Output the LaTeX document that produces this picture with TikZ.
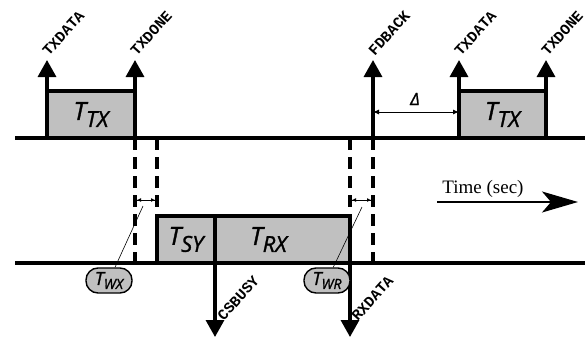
\documentclass[tikz,border=0pt]{standalone}
\usepackage{fontspec}
\setmainfont{Liberation Serif}
\newfontfamily\boxfont[FakeBold=1.3]{Open Sans}
\newfontfamily\sigfont{Liberation Mono}
\usetikzlibrary{arrows.meta,positioning}
\definecolor{boxgray}{RGB}{192,192,192}
\newcommand{\bigT}[1]{{\boxfont\itshape\fontsize{25}{25}\selectfont T\raisebox{-7pt}{\fontsize{22}{22}\selectfont #1}}}
\newcommand{\smallT}[1]{{\boxfont\itshape\fontsize{18}{18}\selectfont T\raisebox{-4pt}{\fontsize{14}{14}\selectfont #1}}}

\begin{document}
\begin{tikzpicture}[x=1pt,y=1pt,
  axis/.style={line width=3.3pt},
  slot/.style={draw,line width=3.3pt,fill=boxgray,inner sep=0pt,outer sep=0pt,minimum height=47pt},
  sig/.style={line width=3.3pt,-{Triangle[width=18pt,length=17pt]}},
  guide/.style={line width=3.5pt,dash pattern=on 12pt off 7pt},
  sigtext/.style={font=\sigfont\bfseries\fontsize{15}{15}\selectfont,rotate=48,anchor=south west,inner sep=0pt},
  gap/.style={line width=1pt,{Bar[width=9pt,line width=2pt]Latex[length=4pt,width=4pt]}-{Latex[length=4pt,width=4pt]Bar[width=9pt,line width=2pt]}},
  pill/.style={draw,line width=1.4pt,fill=boxgray,rounded corners=12pt,minimum width=46pt,minimum height=25pt,inner sep=0pt},
  leader/.style={line width=0.6pt},
  timeaxis/.style={line width=1.6pt,-{Stealth[length=36pt,width=21pt,inset=9pt]}}
]
\useasboundingbox (0,-343) rectangle (587,0);

\draw[axis] (15,-138) coordinate (a1) -- (585,-138) coordinate (a2);
\draw[axis] (15,-263) coordinate (b1) -- (585,-263) coordinate (b2);

\node[slot,minimum width=88pt] (tx1) at (91,-114.5) {\bigT{TX}};
\node[slot,minimum width=87pt] (tx2) at (502.5,-114.5) {\bigT{TX}};
\node[slot,minimum width=58pt] (sy) at (186,-239.5) {\bigT{SY}};
\node[slot,minimum width=135pt] (rx) at (282.5,-239.5) {\bigT{RX}\hspace*{28pt}};

\coordinate (p1) at (47,-60);
\coordinate (p2) at (135,-60);
\coordinate (f0) at (373,-138);
\coordinate (p3) at (373,-60);
\coordinate (p4) at (459,-60);
\coordinate (p5) at (546,-60);
\draw[sig] (tx1.south west) -- (p1);
\draw[sig] (tx1.south east) -- (p2);
\draw[sig] (f0) -- (p3);
\draw[sig] (tx2.south west) -- (p4);
\draw[sig] (tx2.south east) -- (p5);
\node[sigtext] (l1) at ([xshift=2pt,yshift=3pt]p1) {TXDATA};
\node[sigtext] (l2) at ([xshift=2pt,yshift=3pt]p2) {TXDONE};
\node[sigtext] (l3) at ([xshift=2pt,yshift=3pt]p3) {FDBACK};
\node[sigtext] (l4) at ([xshift=2pt,yshift=3pt]p4) {TXDATA};
\node[sigtext] (l5) at ([xshift=2pt,yshift=3pt]p5) {TXDONE};

\coordinate (q1) at (215,-337);
\coordinate (q2) at (350,-337);
\draw[sig] (sy.south east) -- (q1);
\draw[sig] (rx.south east) -- (q2);
\node[sigtext] (l6) at (224,-322) {CSBUSY};
\node[sigtext] (l7) at (358,-322) {RXDATA};

\coordinate (d1) at (135,-263);
\coordinate (d2) at (157,-138);
\coordinate (d3) at (350,-138);
\coordinate (d4) at (373,-263);
\draw[guide] (tx1.south east) -- (d1);
\draw[guide] (d2) -- (sy.north west);
\draw[guide] (d3) -- (rx.north east);
\draw[guide] (f0) -- (d4);

\coordinate (g1) at (135,-200);
\coordinate (g2) at (157,-200);
\coordinate (g3) at (350,-200);
\coordinate (g4) at (373,-200);
\draw[gap] (g1) -- (g2);
\draw[gap] (g3) -- (g4);

\node[pill] (wx) at (109,-280.5) {\smallT{WX}};
\node[pill] (wr) at (327,-280.5) {\smallT{WR}};
\coordinate (w1) at (143,-206);
\coordinate (w2) at (362,-207);
\draw[leader] (wx) -- (w1);
\draw[leader] (wr) -- (w2);

\coordinate (e1) at (373,-112);
\coordinate (e2) at (459,-112);
\draw[line width=1pt,{Latex[length=6pt,width=5pt]}-{Latex[length=6pt,width=5pt]}] (e1) -- (e2);
\node (delta) at (415,-99) {\boxfont\itshape\fontsize{17}{17}\selectfont Δ};

\coordinate (t0) at (437,-202);
\coordinate (t1) at (578,-202);
\node[font=\fontsize{19}{19}\selectfont] (time) at (483,-189) {Time (sec)};
\draw[timeaxis] (t0) -- (t1);
\end{tikzpicture}
\end{document}
